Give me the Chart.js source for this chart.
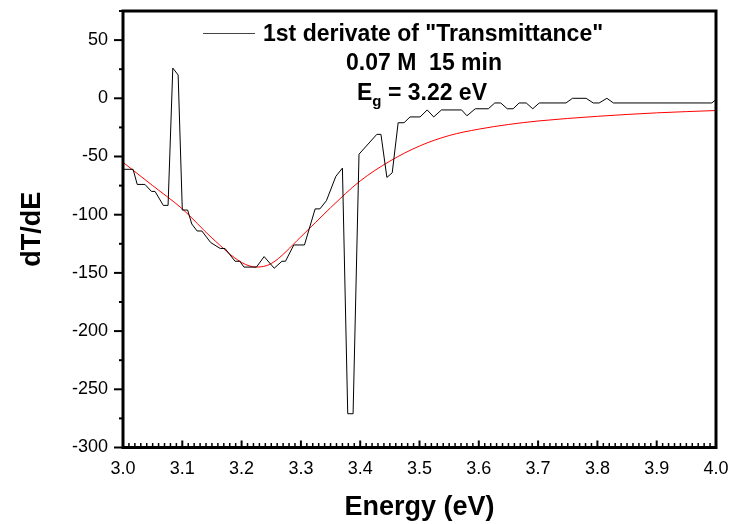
<!DOCTYPE html>
<html>
<head>
<meta charset="utf-8">
<script src="https://cdn.jsdelivr.net/npm/chart.js@4.4.1/dist/chart.umd.min.js"></script>
<style>
  html, body { margin: 0; padding: 0; background: #fff; }
  #wrap { position: relative; width: 732px; height: 524px; }
  canvas { position: absolute; left: 0; top: 0; }
  .ann { position: absolute; font-family: "Liberation Sans", Arial, sans-serif; font-weight: bold; color: #000; white-space: nowrap; }
</style>
</head>
<body>
<div id="wrap">
  <canvas id="c" width="732" height="524"></canvas>
  <div class="ann" id="legLine" style="left:203px; top:33px; width:52px; height:0; border-top:1px solid #444;"></div>
  <div class="ann" style="left:263px; top:20px; font-size:23px; line-height:26px;">1st derivate of "Transmittance"</div>
  <div class="ann" style="left:424px; top:49px; font-size:23px; line-height:26px; transform:translateX(-50%);">0.07 M&nbsp; 15 min</div>
  <div class="ann" style="left:422px; top:79px; font-size:23px; line-height:26px; transform:translateX(-50%);">E<sub style="font-size:15px; vertical-align:-6px; line-height:0;">g</sub> = 3.22 eV</div>
</div>
<script>
// ---- data ----
const energy = [3.000,3.017,3.024,3.037,3.048,3.054,3.068,3.076,3.084,3.093,3.100,3.109,3.116,3.125,3.133,3.148,3.164,3.172,3.189,3.197,3.204,3.225,3.238,3.255,3.268,3.274,3.288,3.306,3.324,3.332,3.343,3.359,3.370,3.379,3.388,3.398,3.428,3.435,3.445,3.454,3.464,3.474,3.484,3.501,3.513,3.524,3.537,3.571,3.580,3.594,3.616,3.627,3.637,3.648,3.658,3.668,3.680,3.691,3.702,3.747,3.758,3.781,3.793,3.803,3.816,3.827,3.993,4.000];
const dTdE = [-61,-61,-74,-74,-80,-80,-92,-92,26,20,-96,-96,-108,-114,-114,-124,-129,-129,-140,-140,-145,-145,-136,-146,-140,-140,-126,-126,-95,-95,-88,-67,-60,-271,-271,-48,-31,-31,-68,-64,-21,-21,-16,-16,-10,-16,-10,-10,-15,-9,-9,-4,-4,-9,-9,-4,-4,-9,-4,-4,0,0,-4,-4,0,-4,-4,-1];
const fitEnergy = [3.00,3.05,3.10,3.15,3.20,3.225,3.25,3.30,3.35,3.40,3.45,3.50,3.55,3.60,3.65,3.70,3.80,3.90,4.00];
const fitValues = [-55,-75,-95,-120,-141,-145,-142,-119,-94,-71,-54,-41,-32,-26.5,-22.5,-19.5,-15.5,-12.5,-10.5];
const xTickValues = [3.0,3.1,3.2,3.3,3.4,3.5,3.6,3.7,3.8,3.9,4.0];
const yTickValues = [-300,-250,-200,-150,-100,-50,0,50];
const xLabel = 'Energy (eV)';
const yLabel = 'dT/dE';

const FONT = '"Liberation Sans", Arial, sans-serif';

const frameTicks = {
  id: 'frameTicks',
  afterDraw(chart) {
    const { ctx, chartArea: a, scales } = chart;
    const xs = scales.x, ys = scales.y;
    ctx.save();
    ctx.strokeStyle = '#000';
    ctx.lineWidth = 2;
    for (let v = -300; v <= 75; v += 25) {
      const y = ys.getPixelForValue(v);
      const major = v % 50 === 0;
      ctx.beginPath();
      ctx.moveTo(a.left - (major ? 9 : 4), y);
      ctx.lineTo(a.left, y);
      ctx.stroke();
    }
    for (let i = 0; i <= 100; i++) {
      const x = xs.getPixelForValue(3 + i / 100);
      const major = i % 10 === 0;
      ctx.lineWidth = major ? 2 : 1.5;
      ctx.beginPath();
      ctx.moveTo(x, a.bottom);
      ctx.lineTo(x, a.bottom - (major ? 7 : 4.5));
      ctx.stroke();
    }
    ctx.lineWidth = 3;
    ctx.strokeRect(a.left, a.top, a.right - a.left, a.bottom - a.top);
    ctx.restore();
  }
};

new Chart(document.getElementById('c'), {
  type: 'line',
  data: {
    datasets: [
      {
        label: '1st derivate of "Transmittance"',
        data: energy.map((e, i) => ({ x: e, y: dTdE[i] })),
        borderColor: '#000',
        borderWidth: 1,
        pointRadius: 0,
        tension: 0
      },
      {
        label: 'fit',
        data: fitEnergy.map((e, i) => ({ x: e, y: fitValues[i] })),
        borderColor: '#ff0000',
        borderWidth: 1,
        pointRadius: 0,
        cubicInterpolationMode: 'monotone'
      }
    ]
  },
  options: {
    responsive: false,
    animation: false,
    events: [],
    layout: { padding: { top: 11, right: 16, left: 0, bottom: 0 } },
    plugins: { legend: { display: false }, tooltip: { enabled: false } },
    scales: {
      x: {
        type: 'linear', min: 3, max: 4,
        afterBuildTicks: s => { s.ticks = xTickValues.map(v => ({ value: v })); },
        afterFit: s => { s.height = 76.5; s.paddingLeft = 0; s.paddingRight = 0; },
        grid: { display: false, drawTicks: false },
        border: { display: false },
        ticks: { color: '#000', font: { family: FONT, size: 18 }, padding: 11, maxRotation: 0,
                 callback: v => Number(v).toFixed(1) },
        title: { display: true, text: xLabel, color: '#000', font: { family: FONT, size: 27, weight: 'bold' }, padding: { top: 14, bottom: 0 } }
      },
      y: {
        type: 'linear', min: -300, max: 75,
        afterBuildTicks: s => { s.ticks = yTickValues.map(v => ({ value: v })); },
        afterFit: s => { s.width = 123; s.paddingTop = 0; s.paddingBottom = 0; },
        grid: { display: false, drawTicks: false },
        border: { display: false },
        ticks: { color: '#000', font: { family: FONT, size: 18 }, padding: 15,
                 callback: v => String(v) },
        title: { display: true, text: yLabel, color: '#000', font: { family: FONT, size: 27, weight: 'bold' }, padding: { top: 16, bottom: 0 } }
      }
    }
  },
  plugins: [frameTicks]
});
</script>
</body>
</html>
